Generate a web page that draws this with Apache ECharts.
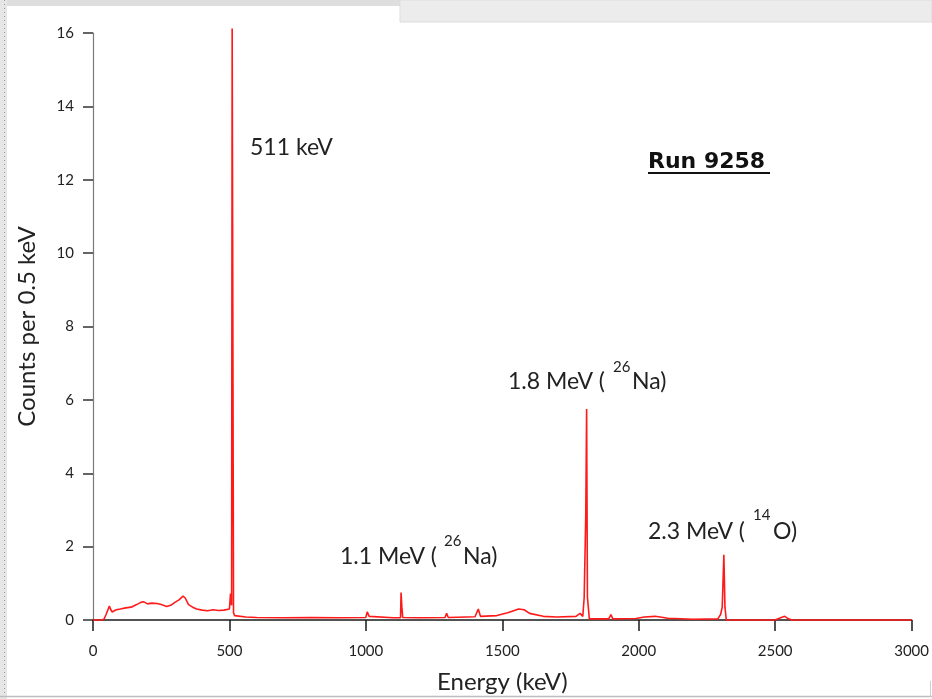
<!DOCTYPE html>
<html>
<head>
<meta charset="utf-8">
<title>Run 9258</title>
<script src="https://cdn.jsdelivr.net/npm/echarts@6/dist/echarts.min.js"></script>
<style>
  html, body { margin: 0; padding: 0; background: #fff; }
  #chart { width: 932px; height: 699px; }
</style>
</head>
<body>
<div id="chart"></div>
<script>
// spectrum (keV, counts per 0.5 keV)
const energies = [
  0, 30, 40, 48, 55, 60, 64, 70, 85, 100, 120, 140, 160, 175, 185, 200, 215, 235, 250, 270,
  285, 300, 315, 330, 338, 350, 365, 380, 400, 420, 440, 460, 480, 500, 504, 508, 510, 513, 515, 519,
  525, 560, 600, 700, 800, 900, 1000, 1005, 1012, 1100, 1127, 1129, 1132, 1135, 1200, 1290, 1296, 1302, 1400, 1412,
  1420, 1480, 1520, 1560, 1580, 1600, 1650, 1700, 1770, 1785, 1795, 1800, 1806, 1809, 1812, 1816, 1819, 1890, 1898, 1905,
  1990, 2020, 2060, 2090, 2110, 2130, 2200, 2290, 2300, 2306, 2312, 2316, 2321, 2500, 2520, 2535, 2545, 2560, 3000
];
const counts = [
  0, 0, 0.02, 0.15, 0.2, 0.38, 0.3, 0.22, 0.28, 0.3, 0.33, 0.35, 0.42, 0.48, 0.5, 0.44, 0.46, 0.45, 0.42, 0.37,
  0.4, 0.48, 0.55, 0.65, 0.6, 0.42, 0.35, 0.3, 0.27, 0.25, 0.28, 0.26, 0.27, 0.3, 0.72, 0.4, 16.12, 16.12, 0.2, 0.12,
  0.1, 0.08, 0.07, 0.06, 0.07, 0.06, 0.07, 0.22, 0.1, 0.06, 0.06, 0.75, 0.35, 0.07, 0.06, 0.07, 0.18, 0.07, 0.09, 0.3,
  0.1, 0.12, 0.2, 0.3, 0.28, 0.18, 0.1, 0.08, 0.1, 0.18, 0.1, 0.6, 2.9, 5.75, 0.62, 0.6, 0.03, 0.03, 0.15, 0.03,
  0.04, 0.08, 0.1, 0.07, 0.04, 0.04, 0.02, 0.03, 0.15, 0.35, 1.78, 0.35, 0, 0, 0.06, 0.1, 0.05, 0, 0
];
const xAxisRange = [0, 3000];
const xStep = 500;
const yAxisRange = [0, 16];
const yStep = 2;

const chart = echarts.init(document.getElementById("chart"));
const textColor = "#222";
const font = "Lato, 'Open Sans', sans-serif";

function label(text, x, y, size, extra) {
  return Object.assign({
    type: "text",
    z: 100,
    style: {
      text: text, x: x, y: y,
      fontSize: size, fontFamily: font, fill: textColor,
      align: "left", verticalAlign: "middle",
      textAlign: "left", textVerticalAlign: "middle",
    },
  }, extra || {});
}

chart.setOption({
  backgroundColor: "#fff",
  animation: false,
  grid: { left: 93, right: 20, top: 33, bottom: 78 },
  xAxis: {
    type: "value",
    min: xAxisRange[0],
    max: xAxisRange[1],
    interval: xStep,
    name: "Energy (keV)",
    nameLocation: "middle",
    nameGap: 50,
    nameTextStyle: { fontSize: 24, fontFamily: font, color: textColor },
    axisLine: { onZero: false, lineStyle: { color: "#1a1a1a", width: 1.5 } },
    axisTick: { length: 11, lineStyle: { color: "#1a1a1a", width: 1.5 } },
    axisLabel: { margin: 24, fontSize: 15, fontFamily: font, color: "#222", formatter: (v) => String(v) },
    splitLine: { show: false },
  },
  yAxis: {
    type: "value",
    min: yAxisRange[0],
    max: yAxisRange[1],
    interval: yStep,
    name: "Counts per 0.5 keV",
    nameLocation: "middle",
    nameGap: 54,
    nameTextStyle: { fontSize: 24, fontFamily: font, color: textColor },
    axisLine: { show: true, lineStyle: { color: "#7a7a7a", width: 1.2 } },
    axisTick: { show: true, length: 10, lineStyle: { color: "#333", width: 1.5 } },
    axisLabel: { margin: 19, fontSize: 15, fontFamily: font, color: "#222", formatter: (v) => String(v) },
    splitLine: { show: false },
  },
  series: [
    {
      type: "line",
      data: energies.map((e, i) => [e, counts[i]]),
      showSymbol: false,
      clip: false,
      lineStyle: { color: "#ff1a1a", width: 1.6 },
      itemStyle: { color: "#ff1a1a" },
    },
  ],
  graphic: [
    // page frame remnants
    { type: "rect", z: 0, shape: { x: 0, y: 0, width: 400, height: 6 }, style: { fill: "#dedede" } },
    { type: "rect", z: 0, shape: { x: 400, y: 0, width: 532, height: 22 }, style: { fill: "#ececec", stroke: "#dddddd", lineWidth: 1 } },
    { type: "rect", z: 0, shape: { x: 0, y: 0, width: 7, height: 699 }, style: { fill: "#e6e6e6" } },
    { type: "line", z: 1, shape: { x1: 4.5, y1: 0, x2: 4.5, y2: 699 }, style: { stroke: "#9a9a9a", lineWidth: 1, lineDash: [1, 3] } },
    { type: "line", z: 1, shape: { x1: 0, y1: 696.5, x2: 932, y2: 696.5 }, style: { stroke: "#bdbdbd", lineWidth: 1.5 } },
    { type: "line", z: 1, shape: { x1: 930.5, y1: 681, x2: 930.5, y2: 697 }, style: { stroke: "#cfcfcf", lineWidth: 1 } },

    // annotations
    label("511 keV", 250, 148, 23),
    label("1.8 MeV (", 508, 382, 23),
    label("26", 613, 367, 15),
    label("Na)", 632, 382, 23),
    label("1.1 MeV (", 340, 557, 23),
    label("26", 444, 541, 15),
    label("Na)", 463, 557, 23),
    label("2.3 MeV (", 648, 532, 23),
    label("14", 753, 515, 15),
    label("O)", 773, 532, 23),
    {
      type: "text",
      z: 100,
      style: {
        text: "Run 9258", x: 648, y: 162,
        fontSize: 22, fontWeight: "bold", fontFamily: "'DejaVu Sans', sans-serif", fill: "#111",
        align: "left", verticalAlign: "middle", textAlign: "left", textVerticalAlign: "middle",
      },
    },
    { type: "line", z: 100, shape: { x1: 648, y1: 173, x2: 770, y2: 173 }, style: { stroke: "#111", lineWidth: 2 } },
  ],
});

window.addEventListener("resize", () => chart.resize());
</script>
</body>
</html>
